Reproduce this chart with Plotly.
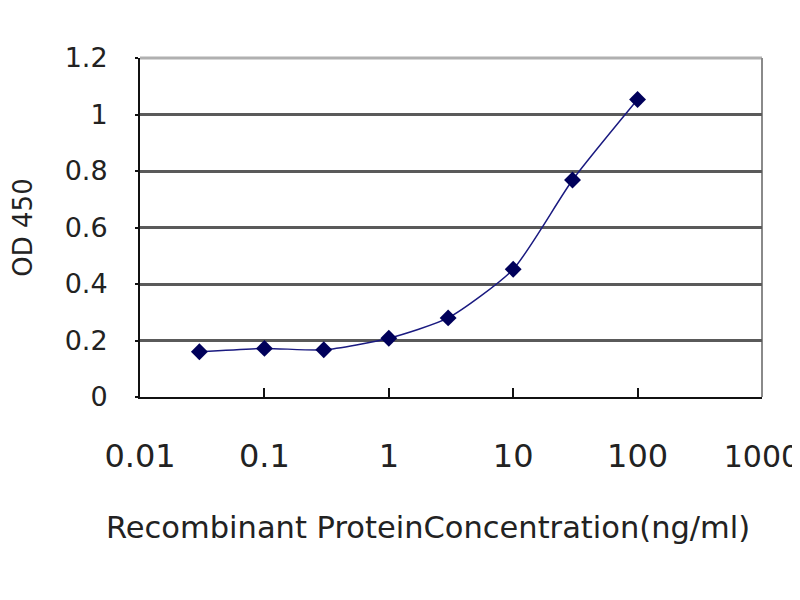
import plotly.graph_objects as go

concentration = [0.03, 0.1, 0.3, 1, 3, 10, 30, 100]
od450 = [0.160, 0.172, 0.167, 0.208, 0.280, 0.452, 0.768, 1.053]
x_tick_vals = [0.01, 0.1, 1, 10, 100, 1000]
x_tick_text = ["0.01", "0.1", "1", "10", "100", "<span style='font-size:30px'>1000</span>"]
y_tick_vals = [0, 0.2, 0.4, 0.6, 0.8, 1.0, 1.2]
y_tick_text = ["0", "0.2", "0.4", "0.6", "0.8", "1", "1.2"]
x_title = "Recombinant ProteinConcentration(ng/ml)"
y_title = "OD 450"

fig = go.Figure()
fig.add_trace(go.Scatter(
    x=concentration, y=od450, mode="lines+markers",
    line=dict(color="#1a1a80", width=1.5, shape="spline", smoothing=0.6),
    marker=dict(symbol="diamond", size=13, color="#00005a"),
    showlegend=False,
))

font = "DejaVu Sans, Arial, sans-serif"
fig.update_layout(
    width=800, height=600,
    margin=dict(l=132, r=46, t=50, b=211, autoexpand=False),
    paper_bgcolor="white", plot_bgcolor="white",
    font=dict(family=font, color="#222222"),
    xaxis=dict(
        type="log", range=[-2.0005, 3.0005],
        tickvals=x_tick_vals, ticktext=x_tick_text,
        tickfont=dict(size=32, color="#222222"),
        ticks="inside", ticklen=9, tickwidth=2, tickcolor="#111111",
        showline=True, linecolor="#111111", linewidth=2,
        showgrid=False, zeroline=False,
        ticklabelstandoff=30, automargin=False, ticklabeloverflow="allow",
    ),
    yaxis=dict(
        range=[0, 1.2],
        tickvals=y_tick_vals, ticktext=y_tick_text,
        tickfont=dict(size=27, color="#222222"),
        ticks="outside", ticklen=3, tickwidth=2, tickcolor="#111111",
        showline=True, linecolor="#111111", linewidth=2,
        showgrid=True, gridcolor="#5a5a5a", gridwidth=3,
        zeroline=False, automargin=False,
        ticklabelstandoff=22,
        title=dict(text=y_title, font=dict(size=26, color="#222222"), standoff=26),
    ),
    annotations=[
        dict(text=x_title, xref="x domain", yref="y domain", x=0.463, y=0,
             xanchor="center", yanchor="middle", yshift=-130, showarrow=False,
             font=dict(size=30.5, color="#222222")),
    ],
    shapes=[
        dict(type="line", xref="x domain", yref="y domain", x0=0, x1=1, y0=1, y1=1,
             line=dict(color="#b0b0b0", width=3), layer="below"),
        dict(type="line", xref="x domain", yref="y domain", x0=1, x1=1, y0=0, y1=1,
             line=dict(color="#8a8a8a", width=2), layer="below"),
    ],
)

fig.write_html("out.html")
